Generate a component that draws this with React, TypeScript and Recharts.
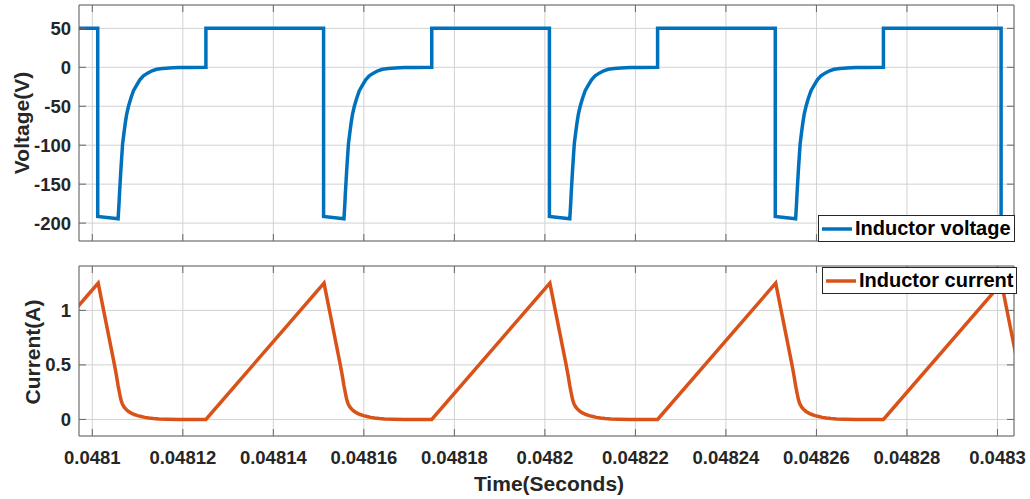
import React from 'react';
import { LineChart, Line, XAxis, YAxis, CartesianGrid, Legend } from 'recharts';

// time is in microseconds; tick labels show seconds
const cycleStarts = [48050.1, 48100.0, 48149.9, 48199.8, 48249.7, 48299.6];

// one switching cycle of the inductor voltage (offset in us, volts)
const voltOffsets = [
  1.2, 1.2, 5.7, 5.8, 5.9, 6.0, 6.1, 6.3, 6.5, 6.7, 7.0, 7.3, 7.6, 8.0, 8.5, 9.1, 9.8, 10.5,
  11.3, 12.2, 13.2, 14.2, 15.5, 17.0, 19.0, 21.5, 25.1, 25.1,
];
const voltValues = [
  50, -191.5, -194.5, -185, -175, -163, -153, -133, -115, -98, -84, -71, -60, -50, -40, -30, -23, -16,
  -11, -7.5, -4.5, -2.5, -1.5, -0.8, -0.4, -0.15, 0, 50,
];

// one switching cycle of the inductor current (offset in us, amps)
const currOffsets = [
  1.3, 4.9, 5.3, 5.7, 6.0, 6.3, 6.6, 7.0, 7.5, 8.0, 8.6, 9.3, 10.0, 10.8, 11.6, 12.5, 13.5, 14.7,
  16.5, 19.0, 25.1,
];
const currValues = [
  1.25, 0.5, 0.41, 0.31, 0.245, 0.185, 0.145, 0.115, 0.09, 0.073, 0.058, 0.045, 0.035, 0.027, 0.019,
  0.013, 0.008, 0.004, 0.0015, 0, 0,
];

const timeTicks = [48100, 48120, 48140, 48160, 48180, 48200, 48220, 48240, 48260, 48280, 48300];
const timeLabels = ['0.0481', '0.04812', '0.04814', '0.04816', '0.04818', '0.0482', '0.04822', '0.04824', '0.04826', '0.04828', '0.0483'];
const voltTicks = [-200, -150, -100, -50, 0, 50];
const currTicks = [0, 0.5, 1];

const timeDomain: [number, number] = [48097.06, 48303.65];
const voltDomain: [number, number] = [-223, 80];
const currDomain: [number, number] = [-0.152, 1.407];

const voltageData = cycleStarts.flatMap((start) =>
  voltOffsets.map((dt, i) => ({ t: start + dt, v: voltValues[i] }))
);
const currentData = cycleStarts.flatMap((start) =>
  currOffsets.map((dt, i) => ({ t: start + dt, i: currValues[i] }))
);

const FONT = '"Liberation Sans", Arial, Helvetica, sans-serif';
const BOX = '#666666';
const GRID = '#d2d2d2';
const tickStyle = { fontFamily: FONT, fontSize: 18.5, fontWeight: 700, fill: '#262626' };

const formatTime = (t: number) => {
  const idx = timeTicks.indexOf(t);
  return idx >= 0 ? timeLabels[idx] : '';
};
const noLabel = () => '';

const renderLegend = (props: any) => {
  const item = props.payload && props.payload[0];
  if (!item) return null;
  return (
    <div
      style={{
        display: 'flex',
        alignItems: 'center',
        background: '#fff',
        border: '1px solid #262626',
        height: 27,
        boxSizing: 'border-box',
        padding: '0 3px 0 3px',
        whiteSpace: 'nowrap',
      }}
    >
      <svg width={30} height={6} style={{ display: 'block' }}>
        <line x1={0} x2={30} y1={3} y2={3} stroke={item.color} strokeWidth={3.5} />
      </svg>
      <span style={{ marginLeft: 3, fontFamily: FONT, fontWeight: 700, fontSize: 20, color: '#000', lineHeight: '25px' }}>
        {item.value}
      </span>
    </div>
  );
};

const axisTitle = (left: number, top: number, rotate: boolean): React.CSSProperties => ({
  position: 'absolute',
  left,
  top,
  transform: rotate ? 'translate(-50%, -50%) rotate(-90deg)' : 'translate(-50%, -50%)',
  whiteSpace: 'nowrap',
  fontFamily: FONT,
  fontWeight: 700,
  fontSize: 21,
  color: '#262626',
  lineHeight: 1,
});

// box edges with inward tick marks, shared by both panels
const frameProps = {
  type: 'number' as const,
  allowDataOverflow: true,
  interval: 0 as const,
  tickSize: -7,
  axisLine: { stroke: BOX },
  tickLine: { stroke: BOX },
};

export default function App() {
  return (
    <div style={{ position: 'absolute', left: 0, top: 0, width: 1030, height: 499, background: '#fff' }}>
      {/* upper panel: inductor voltage */}
      <div style={{ position: 'absolute', left: 0, top: 0 }}>
        <LineChart width={1030} height={250} margin={{ top: 4, right: 15, bottom: 8, left: 78 }}>
          <CartesianGrid stroke={GRID} />
          <XAxis {...frameProps} dataKey="t" domain={timeDomain} ticks={timeTicks} height={1} tick={tickStyle} tickFormatter={noLabel} />
          <XAxis {...frameProps} xAxisId="top" orientation="top" dataKey="t" domain={timeDomain} ticks={timeTicks} height={1} tick={tickStyle} tickFormatter={noLabel} />
          <YAxis {...frameProps} domain={voltDomain} ticks={voltTicks} width={1} tickMargin={15} tick={tickStyle} />
          <YAxis {...frameProps} yAxisId="right" orientation="right" domain={voltDomain} ticks={voltTicks} width={1} tick={tickStyle} tickFormatter={noLabel} />
          <Line
            data={voltageData}
            dataKey="v"
            name="Inductor voltage"
            stroke="#0072BD"
            strokeWidth={3.5}
            dot={false}
            activeDot={false}
            isAnimationActive={false}
          />
          <Legend
            layout="horizontal"
            verticalAlign="middle"
            align="center"
            content={renderLegend}
            wrapperStyle={{ left: 818, top: 215, width: 'auto', height: 'auto' }}
          />
        </LineChart>
      </div>

      {/* lower panel: inductor current */}
      <div style={{ position: 'absolute', left: 0, top: 250 }}>
        <LineChart width={1030} height={249} margin={{ top: 15, right: 15, bottom: 62, left: 78 }}>
          <CartesianGrid stroke={GRID} />
          <XAxis {...frameProps} dataKey="t" domain={timeDomain} ticks={timeTicks} height={1} tickMargin={21.5} tick={tickStyle} tickFormatter={formatTime} />
          <XAxis {...frameProps} xAxisId="top" orientation="top" dataKey="t" domain={timeDomain} ticks={timeTicks} height={1} tick={tickStyle} tickFormatter={noLabel} />
          <YAxis {...frameProps} domain={currDomain} ticks={currTicks} width={1} tickMargin={15} tick={tickStyle} />
          <YAxis {...frameProps} yAxisId="right" orientation="right" domain={currDomain} ticks={currTicks} width={1} tick={tickStyle} tickFormatter={noLabel} />
          <Line
            data={currentData}
            dataKey="i"
            name="Inductor current"
            stroke="#D95319"
            strokeWidth={3.5}
            dot={false}
            activeDot={false}
            isAnimationActive={false}
          />
          <Legend
            layout="horizontal"
            verticalAlign="middle"
            align="center"
            content={renderLegend}
            wrapperStyle={{ left: 822, top: 17, width: 'auto', height: 'auto' }}
          />
        </LineChart>
      </div>

      <div style={axisTitle(21, 123, true)}>Voltage(V)</div>
      <div style={axisTitle(32, 351.5, true)}>Current(A)</div>
      <div style={axisTitle(549, 483, false)}>Time(Seconds)</div>
    </div>
  );
}
